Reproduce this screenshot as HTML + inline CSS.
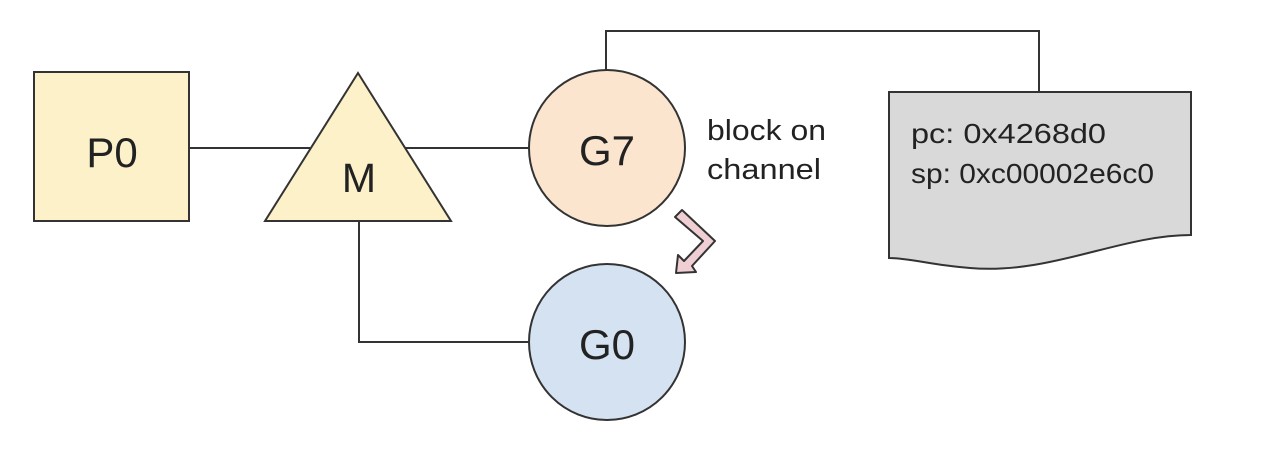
<!DOCTYPE html>
<html><head><style>body{margin:0;background:#fff}</style></head><body>
<svg width="1280" height="466" viewBox="0 0 1280 466" xmlns="http://www.w3.org/2000/svg" font-family="Liberation Sans, sans-serif">
<g stroke="#333" stroke-width="2" fill="none">
<line x1="189" y1="148" x2="310" y2="148"/>
<line x1="405" y1="148" x2="529" y2="148"/>
<polyline points="359,221 359,342 529,342"/>
<polyline points="606,70 606,31 1039,31 1039,92"/>
</g>
<rect x="34" y="72" width="155" height="149" fill="#fdf1c9" stroke="#333" stroke-width="2"/>
<text x="112" y="167" font-size="42" text-anchor="middle" fill="#222">P0</text>
<polygon points="358,73 451,221 265,221" fill="#fdf1c9" stroke="#333" stroke-width="2"/>
<text x="359" y="192" font-size="41" text-anchor="middle" fill="#222">M</text>
<circle cx="607" cy="148" r="78" fill="#fbe5cf" stroke="#333" stroke-width="2"/>
<text x="607" y="165" font-size="42" text-anchor="middle" fill="#222">G7</text>
<circle cx="607" cy="342" r="78" fill="#d4e2f1" stroke="#333" stroke-width="2"/>
<text x="607" y="359" font-size="42" text-anchor="middle" fill="#222">G0</text>
<text x="707" y="140" font-size="29" fill="#222" textLength="119" lengthAdjust="spacingAndGlyphs">block on</text>
<text x="707" y="179" font-size="29" fill="#222" textLength="114" lengthAdjust="spacingAndGlyphs">channel</text>
<polygon points="682,210 715,241 692,266 696,272 676,273 678,255 684,261 703,241 675,217" fill="#efcfd3" stroke="#333" stroke-width="2" stroke-linejoin="round"/>
<path d="M889,92 H1191 V235 C1120,235 1050,275 970,268 C930,265 910,258 889,258 Z" fill="#d9d9d9" stroke="#333" stroke-width="2"/>
<text x="911" y="143" font-size="28" fill="#222" textLength="195" lengthAdjust="spacingAndGlyphs">pc: 0x4268d0</text>
<text x="911" y="183" font-size="28" fill="#222" textLength="243" lengthAdjust="spacingAndGlyphs">sp: 0xc00002e6c0</text>
</svg>
</body></html>
